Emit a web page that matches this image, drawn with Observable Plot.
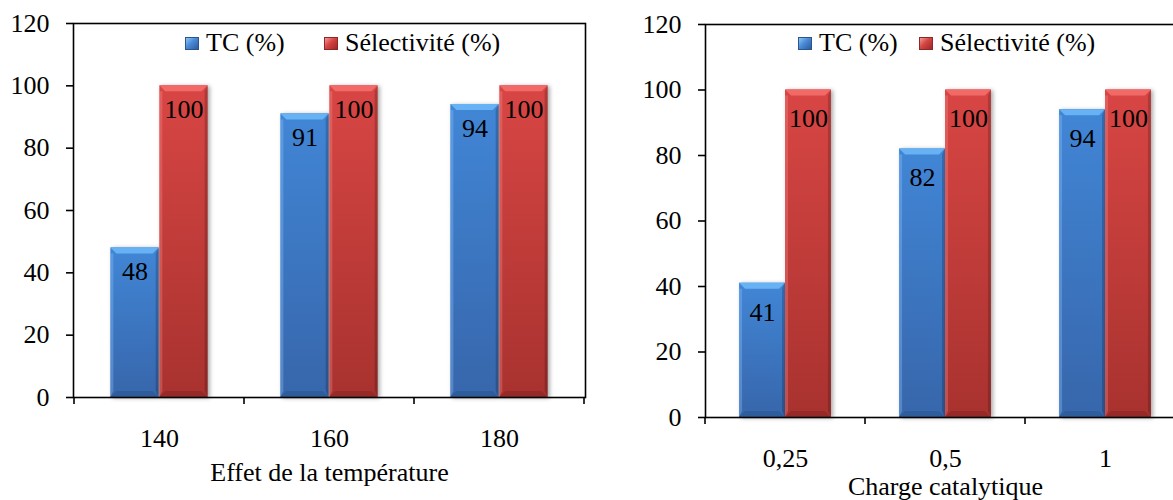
<!DOCTYPE html>
<html>
<head>
<meta charset="utf-8">
<script src="https://cdn.jsdelivr.net/npm/d3@7"></script>
<script src="https://cdn.jsdelivr.net/npm/@observablehq/plot@0.6"></script>
<style>
  html, body { margin: 0; padding: 0; background: #fff; overflow: hidden; }
  #wrap { position: relative; width: 1173px; height: 500px; overflow: hidden;
          font-family: "Liberation Serif", "Times New Roman", serif; }
  .panel { position: absolute; top: 0; width: 600px; height: 500px; }
  .legend-item { position: absolute; top: 30px; height: 26px; display: flex; align-items: center;
                 font-size: 26px; line-height: 26px; color: #000; white-space: nowrap; }
  .sw { width: 14px; height: 13px; margin-right: 7px; box-sizing: border-box; }
  .sw.blue { background: linear-gradient(135deg, #8cc8f8 0%, #4a8ad6 45%, #2d5c9c 100%); border: 1px solid #2c5590; }
  .sw.red  { background: linear-gradient(135deg, #f59a98 0%, #d44442 45%, #9a2b29 100%); border: 1px solid #8e2826; }
</style>
</head>
<body>
<div id="wrap"></div>
<script>
// ---------------- data ----------------
const seriesNames = ["TC (%)", "Sélectivité (%)"];
const temperatures = ["140", "160", "180"];
const tcTemperature = [48, 91, 94];
const selTemperature = [100, 100, 100];
const charges = ["0,25", "0,5", "1"];
const tcCharge = [41, 82, 94];
const selCharge = [100, 100, 100];
const yTicks = [0, 20, 40, 60, 80, 100, 120];
const titleTemperature = "Effet de la température";
const titleCharge = "Charge catalytique";

// ---------------- drawing ----------------
const FONT = '"Liberation Serif", "Times New Roman", serif';
const wrap = document.getElementById("wrap");

function boundaryTicks(len) {
  return (index, scales, values, dims) => {
    const x = scales.x;
    const bw = x.bandwidth ? x.bandwidth() : scales.scales.x.bandwidth;
    const dom = x.domain();
    const edges = dom.map(d => x(d)).concat([x(dom[dom.length - 1]) + bw]);
    const y0 = dims.height - dims.marginBottom;
    const g = d3.create("svg:g").attr("stroke", "black").attr("stroke-width", 1.6);
    g.selectAll("line").data(edges).join("line")
      .attr("x1", d => d).attr("x2", d => d)
      .attr("y1", y0).attr("y2", y0 + len);
    return g.node();
  };
}

function drawPanel(cfg) {
  const {id, left, categories, tc, sel, title, marginLeft, marginRight, marginTop, marginBottom,
         labelDy, titleDy, legendX} = cfg;
  const width = 600, height = 500;
  const rowsTC = categories.map((c, i) => ({cat: c, series: seriesNames[0], value: tc[i]}));
  const rowsSel = categories.map((c, i) => ({cat: c, series: seriesNames[1], value: sel[i]}));
  const bw = (width - marginLeft - marginRight) / categories.length;
  const pairFrac = 0.574;
  const barW = bw * pairFrac / 2;
  const outer = (bw - 2 * barW) / 2;

  const chart = Plot.plot({
    width, height, marginLeft, marginRight, marginTop, marginBottom,
    style: {fontFamily: FONT, fontSize: "26px", color: "black", background: "transparent", overflow: "visible"},
    x: {type: "band", domain: categories, padding: 0},
    y: {domain: [0, 120]},
    marks: [
      Plot.barY(rowsTC, {x: "cat", y: "value", fill: `url(#${id}-blue)`,
        insetLeft: outer, insetRight: bw - outer - barW, className: `${id}-bars`}),
      Plot.barY(rowsSel, {x: "cat", y: "value", fill: `url(#${id}-red)`,
        insetLeft: outer + barW, insetRight: outer, className: `${id}-bars`}),
      Plot.text(rowsTC, {x: "cat", y: "value", text: d => String(d.value), dx: -barW / 2, dy: labelDy, fill: "black"}),
      Plot.text(rowsSel, {x: "cat", y: "value", text: d => String(d.value), dx: barW / 2, dy: labelDy, fill: "black"}),
      Plot.frame({stroke: "black", strokeWidth: 1.6}),
      Plot.axisY({ticks: yTicks, tickSize: 7, tickPadding: 17, strokeWidth: 1.6, label: null, tickFormat: d => String(d)}),
      Plot.axisX({tickSize: 0, tickPadding: 31.5, label: null}),
      boundaryTicks(7),
      Plot.text([title], {frameAnchor: "bottom", dy: titleDy, text: d => d, lineAnchor: "middle", fill: "black"})
    ]
  });

  const svg = d3.select(chart);
  const defs = svg.insert("defs", ":first-child");
  const grads = [
    [`${id}-blue`, "#4186d6", "#3766ab"],
    [`${id}-red`, "#d84644", "#a8322f"]
  ];
  for (const [gid, c0, c1] of grads) {
    const lg = defs.append("linearGradient").attr("id", gid).attr("x1", 0).attr("y1", 0).attr("x2", 0).attr("y2", 1);
    lg.append("stop").attr("offset", "0%").attr("stop-color", c0);
    lg.append("stop").attr("offset", "100%").attr("stop-color", c1);
  }
  // bevel decoration derived from the rects Plot drew
  svg.selectAll(`g.${id}-bars`).each(function () {
    const g = d3.select(this);
    const isBlue = (g.attr("fill") || "").includes("blue");
    const light = isBlue ? "#66b2f4" : "#f26a67";
    const dark = isBlue ? "#2f5d9c" : "#952a28";
    const sideL = isBlue ? "rgba(140,195,255,0.35)" : "rgba(255,150,150,0.3)";
    const sideR = "rgba(0,0,0,0.18)";
    g.style("filter", "drop-shadow(2px 1px 2px rgba(0,0,0,0.35))");
    g.selectAll("rect").each(function () {
      const r = d3.select(this);
      const x = +r.attr("x"), y = +r.attr("y"), w = +r.attr("width"), h = +r.attr("height");
      const b = 6;
      const p = this.parentNode;
      const add = (pts, fill) => d3.select(p).append("polygon").attr("points", pts).attr("fill", fill);
      add(`${x},${y + b} ${x + b / 2},${y + b} ${x + b / 2},${y + h - b} ${x},${y + h}`, sideL);
      add(`${x + w},${y} ${x + w - b / 2},${y + b} ${x + w - b / 2},${y + h - b} ${x + w},${y + h}`, sideR);
      add(`${x},${y} ${x + w},${y} ${x + w - b},${y + b} ${x + b},${y + b}`, light);
      add(`${x},${y + h} ${x + w},${y + h} ${x + w - b},${y + h - b} ${x + b},${y + h - b}`, dark);
    });
  });

  const panel = document.createElement("div");
  panel.className = "panel";
  panel.style.left = left + "px";
  panel.appendChild(chart);
  wrap.appendChild(panel);

  // legend (inside the plot area)
  const colors = ["blue", "red"];
  seriesNames.forEach((name, i) => {
    const item = document.createElement("div");
    item.className = "legend-item";
    item.style.left = legendX[i] + "px";
    const sw = document.createElement("span");
    sw.className = "sw " + colors[i];
    const t = document.createElement("span");
    t.textContent = name;
    item.appendChild(sw);
    item.appendChild(t);
    wrap.appendChild(item);
  });
}

drawPanel({
  id: "temp", left: 0, categories: temperatures, tc: tcTemperature, sel: selTemperature,
  title: titleTemperature, marginLeft: 73, marginRight: 15, marginTop: 23, marginBottom: 103,
  labelDy: 24, titleDy: 75, legendX: [185, 324]
});
drawPanel({
  id: "charge", left: 600, categories: charges, tc: tcCharge, sel: selCharge,
  title: titleCharge, marginLeft: 105, marginRight: 15, marginTop: 24, marginBottom: 83,
  labelDy: 29, titleDy: 69, legendX: [798, 919]
});
</script>
</body>
</html>
